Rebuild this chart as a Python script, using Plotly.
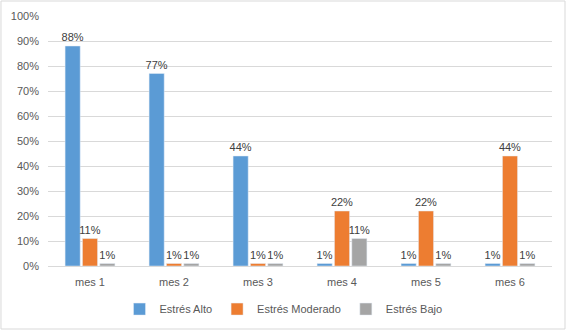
import plotly.graph_objects as go

categories = ["mes 1", "mes 2", "mes 3", "mes 4", "mes 5", "mes 6"]
alto = [88, 77, 44, 1, 1, 1]
moderado = [11, 1, 1, 22, 22, 44]
bajo = [1, 1, 1, 11, 1, 1]
series = [("Estrés Alto", alto, "#5B9BD5"),
          ("Estrés Moderado", moderado, "#ED7D31"),
          ("Estrés Bajo", bajo, "#A5A5A5")]
yticks = [0, 10, 20, 30, 40, 50, 60, 70, 80, 90, 100]
yticklabels = [f"{v}%" for v in yticks]

fig = go.Figure()
for name, vals, color in series:
    fig.add_trace(go.Bar(
        x=categories, y=vals, name=name, marker_color=color,
        text=[f"{v}%" for v in vals], textposition="outside",
        constraintext="none",
        textfont=dict(size=11, color="#404040"), cliponaxis=False,
    ))

fig.update_layout(
    width=567, height=331,
    margin=dict(l=48, r=15, t=16, b=65, autoexpand=False),
    paper_bgcolor="white", plot_bgcolor="white",
    font=dict(family="Liberation Sans", size=11, color="#595959"),
    barmode="group", bargap=0.38, bargroupgap=0.13,
    showlegend=True,
    legend=dict(orientation="h", x=0.5, xanchor="center", xref="container",
                y=0.11, yanchor="top", yref="container",
                font=dict(size=11, color="#595959"), itemwidth=30),
    xaxis=dict(showgrid=False, showline=True, linecolor="#D9D9D9", ticks="",
               ticklabelstandoff=6,
               automargin=False, tickfont=dict(size=11, color="#595959")),
    yaxis=dict(range=[0, 100], tickvals=yticks, ticktext=yticklabels,
               showgrid=True, gridcolor="#D9D9D9", zeroline=False, ticks="",
               ticklabelstandoff=8,
               automargin=False, tickfont=dict(size=11, color="#595959")),
)
fig.add_shape(type="rect", xref="paper", yref="paper",
              x0=-0.0933, x1=1.0258, y0=-0.252, y1=1.06,
              line=dict(color="#D9D9D9", width=1), fillcolor="rgba(0,0,0,0)")
fig.write_html("out.html", config={"displayModeBar": False},
               post_script="document.body.style.margin='0';document.body.style.overflow='hidden';")
